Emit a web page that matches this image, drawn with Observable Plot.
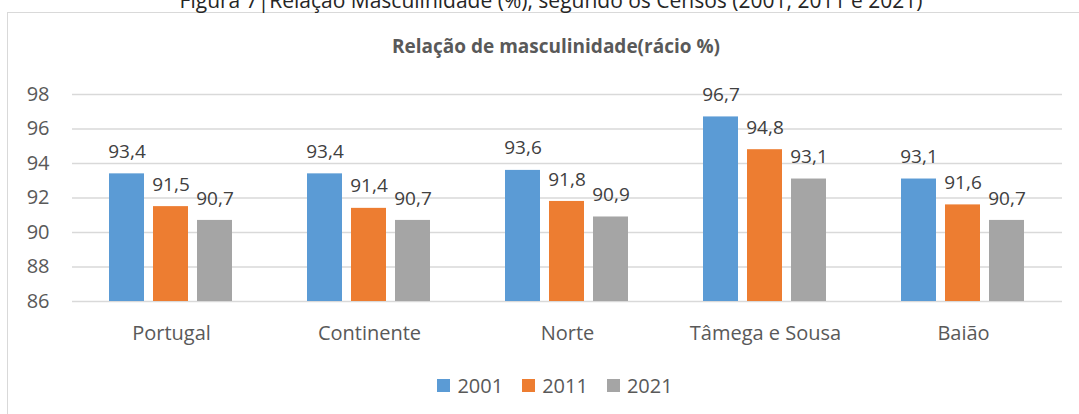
<!DOCTYPE html>
<html>
<head>
<meta charset="utf-8">
<script src="https://cdn.jsdelivr.net/npm/d3@7"></script>
<script src="https://cdn.jsdelivr.net/npm/@observablehq/plot@0.6"></script>
<style>
  html, body { margin: 0; padding: 0; background: #fff; }
  #wrap { position: relative; width: 1079px; height: 414px; overflow: hidden; font-family: "Open Sans", sans-serif; }
  #figtitle { position: absolute; left: 0; width: 1102px; top: -14px; text-align: center; font-size: 21px; color: #262626; white-space: nowrap; }
  #box { position: absolute; left: 7px; top: 12px; width: 1100px; height: 420px; border: 1.5px solid #d9d9d9; box-sizing: border-box; }
  #charttitle { position: absolute; left: 0; width: 1112px; top: 33px; text-align: center; font-size: 19px; font-weight: bold; color: #595959; white-space: nowrap; }
  #chart { position: absolute; left: 0; top: 60px; }
  #legend { position: absolute; left: 0; width: 1110px; top: 372px; display: flex; justify-content: center; gap: 19px; font-size: 20px; color: #595959; }
  .item { display: flex; align-items: center; gap: 7px; }
  .sw { width: 13px; height: 13px; display: inline-block; }
</style>
</head>
<body>
<div id="wrap">
  <div id="box"></div>
  <div id="figtitle">Figura 7|Relação Masculinidade (%), segundo os Censos (2001, 2011 e 2021)</div>
  <div id="charttitle">Relação de masculinidade(rácio %)</div>
  <div id="chart"></div>
  <div id="legend"></div>
</div>
<script>
const categories = ["Portugal", "Continente", "Norte", "Tâmega e Sousa", "Baião"];
const years = ["2001", "2011", "2021"];
const values2001 = [93.4, 93.4, 93.6, 96.7, 93.1];
const values2011 = [91.5, 91.4, 91.8, 94.8, 91.6];
const values2021 = [90.7, 90.7, 90.9, 93.1, 90.7];
const yTicks = [86, 88, 90, 92, 94, 96, 98];
const colors = ["#5B9BD5", "#ED7D31", "#A5A5A5"];

const series = [values2001, values2011, values2021];
const data = [];
categories.forEach((c, i) => {
  years.forEach((y, j) => data.push({category: c, year: y, value: series[j][i]}));
});
const yMin = yTicks[0];
const fmt = v => v.toFixed(1).replace(".", ",");

const chart = Plot.plot({
  width: 1079,
  height: 290,
  marginLeft: 72,
  marginRight: 17,
  marginTop: 34,
  marginBottom: 49,
  style: {fontFamily: "'Open Sans', sans-serif", fontSize: "20px", color: "#595959", background: "transparent"},
  fx: {domain: categories, padding: 0, axis: null},
  x: {domain: years, paddingInner: 0.2045, paddingOuter: 0.852, axis: null},
  y: {domain: [yTicks[0], yTicks[yTicks.length - 1]], ticks: yTicks, tickSize: 0, tickPadding: 23, label: null, tickFormat: d => d},
  color: {domain: years, range: colors},
  marks: [
    Plot.ruleY(yTicks, {stroke: "#d9d9d9", strokeWidth: 1.5}),
    Plot.barY(data, {fx: "category", x: "year", y1: yMin, y2: "value", fill: "year"}),
    Plot.text(data, {fx: "category", x: "year", y: "value", text: d => fmt(d.value), dy: -22, lineAnchor: "middle", fill: "#404040", fontSize: 19}),
    Plot.text(categories, {fx: d => d, text: d => d, frameAnchor: "bottom", dy: 32, lineAnchor: "middle", fill: "#595959", fontSize: 20}),
    Plot.axisY({ticks: yTicks, tickSize: 0, tickPadding: 23, label: null, fill: "#595959", fontSize: 20})
  ]
});
document.getElementById("chart").appendChild(chart);

const legend = document.getElementById("legend");
years.forEach((y, j) => {
  const it = document.createElement("div");
  it.className = "item";
  it.innerHTML = `<span class="sw" style="background:${colors[j]}"></span><span>${y}</span>`;
  legend.appendChild(it);
});
</script>
</body>
</html>
